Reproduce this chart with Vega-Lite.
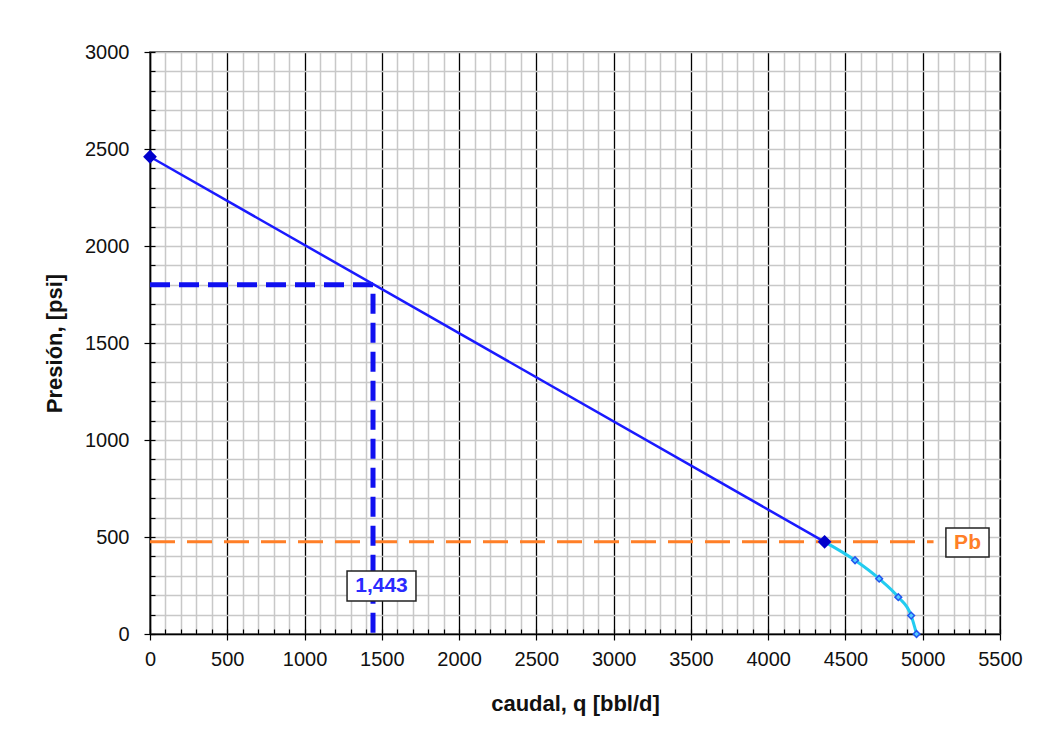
{
  "$schema": "https://vega.github.io/schema/vega-lite/v6.json",
  "width": 850,
  "height": 582,
  "autosize": {"type": "none"},
  "padding": {"top": 52, "left": 150, "right": 37, "bottom": 117},
  "background": "white",
  "config": {
    "view": {"stroke": "#333333", "strokeWidth": 1.5},
    "font": "Liberation Sans",
    "axis": {"labelFont": "Liberation Sans", "titleFont": "Liberation Sans"}
  },
  "datasets": {
    "ipr": [{"q": 0, "p": 2460}, {"q": 4365, "p": 475}],
    "vogel": [
      {"q": 4365, "p": 475},
      {"q": 4562, "p": 380},
      {"q": 4718, "p": 285},
      {"q": 4842, "p": 190},
      {"q": 4925, "p": 95},
      {"q": 4960, "p": 0}
    ],
    "pb": [{"q": 0, "p": 475}, {"q": 5070, "p": 475}],
    "op": [{"i": 0, "q": 0, "p": 1800}, {"i": 1, "q": 1443, "p": 1800}, {"i": 2, "q": 1443, "p": 0}],
    "boxes": [
      {"label": "Pb", "q1": 5150, "q2": 5429, "p1": 397, "p2": 546, "qc": 5290, "pc": 471, "color": "orange"},
      {"label": "1,443", "q1": 1275, "q2": 1721, "p1": 170, "p2": 325, "qc": 1498, "pc": 247, "color": "blue"}
    ]
  },
  "resolve": {"axis": {"x": "independent", "y": "independent"}},
  "layer": [
    {
      "data": {"name": "pb"},
      "mark": {"type": "line", "opacity": 0},
      "encoding": {
        "x": {
          "field": "q", "type": "quantitative",
          "scale": {"domain": [0, 5500], "nice": false},
          "axis": {
            "orient": "bottom",
            "values": [0,100,200,300,400,500,600,700,800,900,1000,1100,1200,1300,1400,1500,1600,1700,1800,1900,2000,2100,2200,2300,2400,2500,2600,2700,2800,2900,3000,3100,3200,3300,3400,3500,3600,3700,3800,3900,4000,4100,4200,4300,4400,4500,4600,4700,4800,4900,5000,5100,5200,5300,5400,5500],
            "labels": false, "title": null, "domain": false,
            "grid": true, "gridColor": "#c8c8c8", "gridWidth": 1.5, "gridOpacity": 1,
            "ticks": true, "tickSize": -5, "tickColor": "#000000", "tickWidth": 1.2
          }
        },
        "y": {
          "field": "p", "type": "quantitative",
          "scale": {"domain": [0, 3000], "nice": false},
          "axis": {
            "orient": "left",
            "values": [0,100,200,300,400,500,600,700,800,900,1000,1100,1200,1300,1400,1500,1600,1700,1800,1900,2000,2100,2200,2300,2400,2500,2600,2700,2800,2900,3000],
            "labels": false, "title": null, "domain": false,
            "grid": true, "gridColor": "#c8c8c8", "gridWidth": 1.5, "gridOpacity": 1,
            "ticks": true, "tickSize": -5, "tickColor": "#000000", "tickWidth": 1.2
          }
        }
      }
    },
    {
      "data": {"name": "pb"},
      "mark": {"type": "line", "color": "#ff7f27", "strokeWidth": 3, "strokeDash": [25, 12]},
      "encoding": {
        "x": {
          "field": "q", "type": "quantitative",
          "scale": {"domain": [0, 5500], "nice": false},
          "axis": {
            "orient": "bottom",
            "values": [0,500,1000,1500,2000,2500,3000,3500,4000,4500,5000,5500],
            "format": "d", "labelFlush": false, "labelOverlap": false,
            "grid": true, "gridColor": "#000000", "gridWidth": 1.2, "gridOpacity": 1,
            "domain": true, "domainColor": "#000000", "domainWidth": 1.5,
            "tickSize": 6, "tickColor": "#000000", "tickWidth": 1.2,
            "labelFontSize": 20, "labelColor": "#111111", "labelPadding": 9,
            "title": "caudal, q [bbl/d]", "titleFontSize": 22, "titleFontWeight": "bold",
            "titleColor": "#111111", "titlePadding": 24
          }
        },
        "y": {
          "field": "p", "type": "quantitative",
          "scale": {"domain": [0, 3000], "nice": false},
          "axis": {
            "orient": "left",
            "values": [0,500,1000,1500,2000,2500,3000],
            "format": "d", "labelFlush": false, "labelOverlap": false,
            "grid": false,
            "domain": true, "domainColor": "#000000", "domainWidth": 1.5,
            "tickSize": 6, "tickColor": "#000000", "tickWidth": 1.2,
            "labelFontSize": 20, "labelColor": "#111111", "labelPadding": 15,
            "title": "Presión, [psi]", "titleFontSize": 22, "titleFontWeight": "bold",
            "titleColor": "#111111", "titlePadding": 18
          }
        }
      }
    },
    {
      "data": {"name": "op"},
      "mark": {"type": "line", "color": "#1010f0", "strokeWidth": 5, "strokeDash": [20, 9], "strokeCap": "butt"},
      "encoding": {
        "x": {"field": "q", "type": "quantitative", "axis": null},
        "y": {"field": "p", "type": "quantitative", "axis": null},
        "order": {"field": "i", "type": "quantitative"}
      }
    },
    {
      "data": {"name": "ipr"},
      "mark": {"type": "line", "color": "#1a1aff", "strokeWidth": 2.5},
      "encoding": {
        "x": {"field": "q", "type": "quantitative", "axis": null},
        "y": {"field": "p", "type": "quantitative", "axis": null}
      }
    },
    {
      "data": {"name": "vogel"},
      "mark": {"type": "line", "color": "#22ccf0", "strokeWidth": 3, "interpolate": "monotone"},
      "encoding": {
        "x": {"field": "q", "type": "quantitative", "axis": null},
        "y": {"field": "p", "type": "quantitative", "axis": null}
      }
    },
    {
      "data": {"name": "vogel"},
      "transform": [{"filter": "datum.p < 450"}],
      "mark": {"type": "point", "shape": "diamond", "filled": true, "fill": "#55ccff", "stroke": "#2255ee", "strokeWidth": 1.5, "size": 45, "opacity": 1},
      "encoding": {
        "x": {"field": "q", "type": "quantitative", "axis": null},
        "y": {"field": "p", "type": "quantitative", "axis": null}
      }
    },
    {
      "data": {"name": "ipr"},
      "mark": {"type": "point", "shape": "diamond", "filled": true, "color": "#0000cc", "size": 190, "opacity": 1},
      "encoding": {
        "x": {"field": "q", "type": "quantitative", "axis": null},
        "y": {"field": "p", "type": "quantitative", "axis": null}
      }
    },
    {
      "data": {"name": "boxes"},
      "mark": {"type": "rect", "fill": "white", "stroke": "#222222", "strokeWidth": 1.5},
      "encoding": {
        "x": {"field": "q1", "type": "quantitative", "axis": null},
        "x2": {"field": "q2"},
        "y": {"field": "p1", "type": "quantitative", "axis": null},
        "y2": {"field": "p2"}
      }
    },
    {
      "data": {"name": "boxes"},
      "mark": {"type": "text", "fontSize": 21, "fontWeight": "bold", "align": "center", "baseline": "middle"},
      "encoding": {
        "x": {"field": "qc", "type": "quantitative", "axis": null},
        "y": {"field": "pc", "type": "quantitative", "axis": null},
        "text": {"field": "label"},
        "color": {"field": "color", "type": "nominal", "scale": {"domain": ["orange", "blue"], "range": ["#ff7f27", "#2a2aff"]}, "legend": null}
      }
    }
  ]
}
